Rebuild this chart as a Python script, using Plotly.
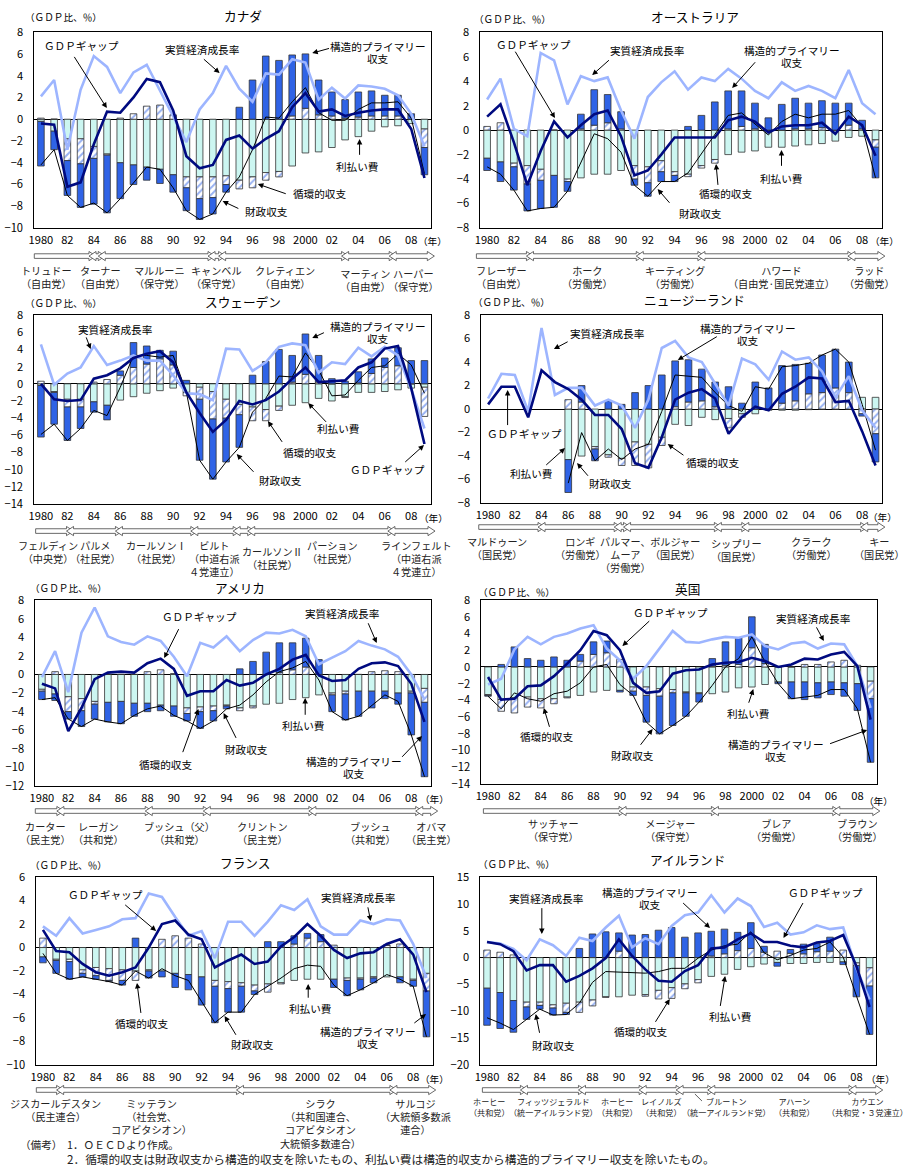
import plotly.graph_objects as go

# The page is photographed as (figure + 8px body margin) scaled by 1174/1190,
# so figure coordinates are derived from target picture coordinates with K.
K = 1190.0 / 1174.0
OFF = 8
W, H = 919, 1182
FONT = "Noto Sans CJK JP"
years = list(range(1980, 2010))
tick_years = list(range(1980, 2009, 2))
tick_text = ["1980", "82", "84", "86", "88", "90", "92", "94", "96", "98", "2000", "02", "04", "06", "08"]

# ---------------- DATA (GDP比、%) ----------------
canada_interest = [-0.2,-1.1,-1.8,-1.8,-2.5,-3.2,-4.0,-4.2,-4.4,-4.6,-5.1,-5.3,-5.3,-5.3,-5.2,-5.6,-5.3,-4.9,-4.8,-4.3,-3.1,-3.0,-2.6,-1.9,-1.6,-1.1,-0.7,-0.6,-0.4,-0.9]
canada_cyclical = [0.1,0.0,-2.0,-2.3,-1.1,-0.1,0.1,0.5,1.2,1.3,0.4,-1.0,-2.0,-1.9,-0.8,-0.8,-1.0,-0.7,-0.5,0.3,1.0,0.4,0.3,0.1,0.2,0.3,0.3,0.3,0.0,-1.7]
canada_structural = [-4.1,-1.7,-3.2,-4.0,-4.2,-5.3,-3.3,-1.8,-1.2,-1.3,-1.6,-2.1,-1.9,-1.5,-0.7,1.1,3.6,5.8,5.4,5.6,5.0,3.2,2.2,1.7,2.3,2.3,1.9,1.9,0.5,-2.5]
canada_fiscal = [-4.2,-2.8,-7.0,-8.1,-7.7,-8.6,-7.3,-5.9,-4.4,-4.6,-6.3,-8.4,-9.2,-8.7,-6.7,-5.3,-2.8,0.2,0.1,1.6,2.9,0.6,-0.1,-0.1,0.9,1.5,1.5,1.6,0.1,-5.0]
canada_gap = [-0.4,-0.5,-6.2,-5.8,-2.3,0.7,0.6,2.0,3.7,3.4,0.8,-3.4,-4.5,-4.2,-1.9,-1.5,-2.7,-1.8,-1.1,1.1,2.4,0.7,0.9,0.3,0.6,0.8,0.9,0.9,-0.9,-5.4]
canada_growth = [2.1,3.6,-2.8,2.7,5.8,4.8,2.4,4.3,5.0,2.6,0.2,-2.1,0.9,2.4,4.9,2.8,1.6,4.2,4.1,5.5,5.2,1.8,2.9,1.9,3.1,3.0,2.8,2.2,0.5,-2.5]

australia_interest = [-2.3,-2.6,-2.7,-2.9,-3.2,-3.7,-4.0,-3.9,-3.6,-3.6,-3.3,-2.9,-3.0,-2.5,-3.4,-3.6,-2.9,-2.4,-2.0,-1.8,-1.7,-1.4,-1.4,-1.3,-1.2,-1.1,-0.9,-0.6,-0.5,-0.8]
australia_cyclical = [0.3,0.6,-0.3,-1.5,-0.9,0.0,-0.2,0.1,0.4,0.6,0.1,-1.1,-1.3,-0.9,-0.3,-0.2,-0.2,-0.3,0.1,0.3,0.1,0.0,0.0,0.1,0.1,0.2,0.0,0.4,0.1,-0.6]
australia_structural = [-1.0,-1.6,-1.9,-2.2,-2.3,-2.6,-0.8,1.2,2.9,2.3,1.4,-0.5,-1.1,-0.8,-0.5,0.3,1.2,2.3,3.1,2.9,2.1,1.0,2.1,2.5,2.1,2.2,2.2,1.8,0.7,-2.5]
australia_fiscal = [-3.0,-3.6,-4.9,-6.6,-6.4,-6.3,-5.0,-2.6,-0.3,-0.7,-1.8,-4.5,-5.4,-4.2,-4.2,-3.5,-1.9,-0.4,1.2,1.4,0.5,-0.4,0.7,1.3,1.0,1.3,1.3,1.6,0.3,-3.9]
australia_gap = [1.1,2.1,-1.0,-4.5,-1.7,0.7,-0.6,0.4,1.3,1.6,-0.5,-3.7,-3.3,-2.0,-0.6,-0.6,-0.6,-0.6,0.8,1.1,0.7,-0.2,0.3,0.4,0.4,0.6,-0.3,1.1,0.4,-2.1]
australia_growth = [2.5,4.2,0.1,-0.5,6.3,5.7,2.1,4.4,4.0,4.3,1.6,-0.7,2.7,3.9,4.8,3.3,4.3,4.0,5.0,4.2,3.2,2.6,3.9,3.2,3.6,3.2,2.6,4.9,2.2,1.3]

sweden_interest = [-0.2,-0.9,-1.8,-1.8,-2.1,-2.5,-1.9,-1.5,-1.1,-0.8,-0.5,-1.0,-0.4,-0.9,-1.8,-2.4,-2.7,-3.0,-2.6,-2.5,-2.2,-1.7,-2.0,-1.5,-1.0,-1.0,-0.9,-0.7,-0.5,-0.4]
sweden_cyclical = [0.3,-0.1,-0.9,-0.9,0.2,0.5,1.0,1.9,2.3,2.9,2.2,-0.4,-1.4,-3.2,-2.2,-1.2,-1.6,-1.3,-0.5,0.2,1.1,0.2,0.0,-0.1,0.1,1.2,1.9,2.1,0.0,-3.4]
sweden_structural = [-6.0,-3.7,-3.9,-2.5,-1.2,-1.7,0.5,2.9,2.1,1.0,1.6,0.4,-7.1,-7.0,-5.1,-3.8,1.0,2.6,4.0,3.1,4.7,3.1,0.6,0.3,1.3,1.7,1.1,2.1,2.7,2.7]
sweden_fiscal = [-5.9,-4.7,-6.6,-5.2,-3.1,-3.7,-0.4,3.3,3.3,3.1,3.3,-1.0,-8.9,-11.1,-9.1,-7.4,-3.3,-1.7,0.9,0.8,3.6,1.6,-1.4,-1.3,0.4,1.9,2.1,3.5,2.2,-1.1]
sweden_gap = [0.0,-1.8,-2.0,-1.9,0.6,1.0,1.8,3.0,3.5,3.8,2.5,-1.0,-3.4,-5.6,-4.2,-2.0,-2.4,-1.9,-0.9,0.6,1.9,0.2,0.3,0.4,1.9,2.5,4.1,4.4,-0.5,-7.0]
sweden_growth = [4.6,-0.1,1.2,1.9,4.4,2.2,2.7,3.3,2.7,2.7,1.0,-1.1,-1.2,-1.9,4.1,4.0,1.5,2.5,4.3,4.7,4.5,1.3,2.5,2.3,4.2,3.2,4.3,3.3,-0.6,-5.2]

nz_interest = [None]*6 + [-4.3,-4.0,-3.2,-3.9,-4.2,-2.8,-3.0,-2.4,-1.3,-1.4,-0.7,-0.9,-0.8,-0.4,-0.4,-0.1,-0.1,-0.1,-0.05,0.0,0.0,0.0,1.0,1.0]
nz_cyclical = [None]*6 + [0.8,0.6,-0.2,-0.2,-0.6,-2.0,-2.0,-0.7,0.2,0.6,0.7,0.2,-0.8,-0.3,0.0,0.0,0.5,0.7,1.3,1.4,1.8,1.4,-0.4,-2.1]
nz_structural = [None]*6 + [-2.8,1.4,-1.0,0.7,0.4,1.4,2.0,2.9,3.9,3.6,2.7,2.1,1.9,0.5,2.3,1.8,3.2,3.1,2.6,3.2,3.3,2.6,-0.2,-2.4]
nz_fiscal = [None]*6 + [-6.3,-2.0,-4.4,-3.4,-4.3,-3.4,-3.0,-0.2,2.9,2.8,2.7,1.4,0.3,-0.2,1.9,1.7,3.6,3.7,3.9,4.6,5.1,4.0,0.4,-3.5]
nz_gap = [0.4,1.9,1.9,-0.7,3.3,2.3,1.7,0.8,-0.5,-0.5,-1.7,-4.6,-5.0,-2.4,0.8,1.4,1.7,0.9,-2.1,-0.7,0.2,-0.1,1.3,1.9,2.7,2.6,0.6,0.7,-1.9,-4.8]
nz_growth = [0.9,3.0,2.9,-0.2,6.9,1.2,1.8,1.8,0.3,0.8,0.3,-1.6,0.8,5.2,5.8,4.4,4.0,2.2,0.3,4.3,3.8,2.5,4.9,4.2,4.4,3.2,1.0,2.8,-0.1,-1.6]

usa_interest = [-1.6,-2.1,-2.4,-2.6,-2.9,-3.0,-2.9,-3.1,-3.1,-3.3,-3.4,-3.6,-3.5,-3.4,-3.3,-3.6,-3.4,-3.2,-3.1,-2.7,-2.5,-2.2,-2.0,-1.8,-1.8,-1.8,-1.8,-2.0,-1.8,-1.5]
usa_cyclical = [-0.2,0.3,-1.6,-1.3,-0.3,0.0,0.0,0.0,0.3,0.5,0.1,-0.6,-0.5,-0.5,-0.1,-0.3,-0.2,0.0,0.2,0.5,0.8,0.0,-0.2,-0.3,0.0,0.3,0.4,0.3,-0.2,-1.5]
usa_structural = [-0.9,-0.7,-0.8,-1.7,-1.6,-2.1,-2.4,-1.4,-0.9,-0.6,-1.1,-0.8,-1.8,-1.1,-0.3,0.6,1.4,2.4,3.2,2.9,3.1,1.6,-1.8,-2.8,-2.7,-1.8,-0.8,-1.2,-4.5,-8.0]
usa_fiscal = [-2.7,-2.5,-4.8,-5.6,-4.8,-5.1,-5.3,-4.4,-3.7,-3.4,-4.4,-5.0,-5.8,-5.0,-3.7,-3.3,-2.2,-0.8,0.3,0.7,1.4,-0.6,-4.0,-4.9,-4.5,-3.3,-2.2,-2.9,-6.5,-11.0]
usa_gap = [-1.0,-1.5,-6.1,-3.6,-0.5,0.2,0.3,0.2,1.2,1.7,0.6,-2.3,-1.8,-1.8,-0.6,-1.2,-0.9,0.0,0.6,1.6,2.1,-0.1,-0.7,-0.6,0.6,1.2,1.3,0.9,-1.0,-5.1]
usa_growth = [-0.3,2.5,-1.9,4.5,7.2,4.1,3.5,3.2,4.1,3.6,1.9,-0.2,3.4,2.9,4.1,2.5,3.7,4.5,4.4,4.8,4.1,1.1,1.8,2.5,3.6,3.1,2.7,1.9,0.0,-2.7]

uk_interest = [-3.3,-3.9,-3.7,-3.6,-3.8,-3.8,-3.6,-3.4,-3.0,-2.8,-2.8,-2.4,-2.4,-2.6,-2.7,-3.0,-3.1,-3.2,-3.0,-2.5,-2.4,-2.1,-1.8,-1.8,-1.8,-1.9,-1.8,-1.9,-2.0,-1.7]
uk_cyclical = [-0.1,-1.4,-1.8,-1.2,-1.1,-0.6,-0.1,0.7,1.5,1.7,0.9,-0.5,-1.0,-0.9,-0.4,-0.1,-0.1,0.1,0.2,0.3,2.3,0.4,0.0,0.0,0.3,0.3,0.6,0.8,0.2,-2.1]
uk_structural = [-0.1,0.3,2.4,1.0,0.8,1.2,0.8,0.8,1.5,1.4,-0.2,-0.5,-3.2,-4.5,-3.9,-2.8,-1.0,0.9,2.8,3.2,3.7,2.3,-0.2,-2.0,-2.1,-1.8,-1.5,-1.6,-3.2,-7.6]
uk_fiscal = [-3.5,-5.0,-3.1,-3.8,-4.1,-3.2,-2.9,-1.9,0.0,0.3,-2.1,-3.4,-6.6,-8.0,-7.0,-5.9,-4.2,-2.2,0.0,1.0,3.6,0.6,-2.0,-3.8,-3.6,-3.4,-2.7,-2.7,-5.0,-11.4]
uk_gap = [-1.2,-3.9,-3.8,-2.3,-2.2,-1.1,0.4,2.0,4.3,3.8,2.0,-1.9,-3.1,-2.9,-0.8,-0.4,-0.3,0.3,0.5,0.6,1.1,0.7,0.0,0.3,1.0,0.9,1.5,1.8,0.1,-6.3]
uk_growth = [-2.1,-1.4,2.1,3.6,2.7,3.6,4.0,4.6,5.0,2.2,0.8,-1.4,0.1,2.2,4.3,3.0,2.9,3.3,3.6,3.5,3.9,2.5,2.1,2.8,3.0,2.2,2.8,2.7,0.1,-4.9]

france_interest = [-0.8,-1.0,-1.0,-1.9,-1.7,-1.8,-1.9,-2.0,-1.9,-2.0,-2.2,-2.3,-2.5,-2.8,-2.9,-3.0,-3.2,-3.1,-3.0,-2.8,-2.7,-2.7,-2.7,-2.6,-2.6,-2.5,-2.5,-2.5,-2.7,-2.2]
france_cyclical = [0.8,-0.1,-0.2,-0.3,-0.7,-1.0,-0.9,-0.8,-0.1,0.7,1.0,0.8,0.3,-0.5,-0.6,-0.3,-0.5,-0.7,-0.1,0.3,0.8,0.5,0.2,-0.2,-0.1,-0.1,0.2,0.3,-0.1,-1.5]
france_structural = [-0.5,-1.1,-1.5,-0.3,-0.3,-0.1,-0.4,0.8,-0.6,-0.5,-1.2,-1.3,-2.4,-3.1,-2.0,-2.2,-0.3,0.5,0.5,0.7,0.4,0.6,-0.7,-1.3,-0.9,-0.4,0.0,-0.5,-0.5,-3.9]
france_fiscal = [-0.5,-2.2,-2.7,-2.5,-2.7,-2.9,-3.2,-2.0,-2.6,-1.8,-2.4,-2.8,-4.6,-6.4,-5.5,-5.5,-4.0,-3.3,-2.6,-1.8,-1.5,-1.6,-3.2,-4.1,-3.6,-3.0,-2.3,-2.7,-3.3,-7.6]
france_gap = [1.5,-0.3,-0.4,-1.4,-2.1,-2.4,-2.1,-1.7,0.0,2.0,2.3,1.1,0.7,-1.7,-1.1,-0.6,-1.4,-1.2,0.1,0.9,2.0,1.0,-0.2,-0.9,-0.5,-0.4,0.3,0.7,-0.6,-3.8]
france_growth = [1.8,1.0,2.5,1.2,1.5,1.8,2.4,2.5,4.6,4.3,2.6,1.0,1.4,-0.9,2.2,2.2,1.0,2.2,3.6,3.2,4.1,1.8,1.1,1.1,2.3,2.0,2.4,2.3,0.3,-2.6]

ireland_interest = [-5.7,-6.5,-8.0,-8.3,-8.3,-8.8,-8.5,-8.3,-7.9,-7.3,-7.3,-7.0,-6.9,-6.1,-5.6,-4.9,-4.1,-3.5,-3.1,-2.2,-1.7,-1.2,-0.9,-1.1,-1.1,-0.9,-0.9,-0.8,-1.0,-1.9]
ireland_cyclical = [1.4,1.0,0.5,-0.9,-0.6,-0.6,-1.7,-1.9,-1.1,-0.1,1.2,0.0,-0.3,-1.6,-2.0,-0.9,-0.6,0.3,0.7,1.3,1.7,1.0,1.2,0.8,0.7,1.1,1.2,1.4,-0.5,-3.4]
ireland_structural = [-6.9,-6.7,-5.9,-2.3,-0.7,-1.3,-0.4,1.7,4.4,4.8,3.4,4.2,4.3,5.1,5.6,3.8,4.6,4.6,4.6,3.4,4.8,1.1,-0.7,0.7,1.8,1.5,2.6,-0.5,-5.8,-9.0]
ireland_fiscal = [-11.2,-12.2,-13.4,-11.5,-9.6,-10.7,-10.6,-8.5,-4.6,-2.6,-2.7,-2.8,-2.9,-2.6,-2.0,-2.0,-0.1,1.4,2.2,2.5,4.8,0.9,-0.4,0.4,1.4,1.7,2.9,0.1,-7.3,-14.3]
ireland_gap = [2.9,2.5,1.2,-2.4,-1.4,-1.4,-4.5,-3.4,-2.0,-0.1,3.4,0.3,-2.2,-4.3,-4.5,-2.5,-1.4,1.7,1.9,3.4,4.5,2.9,2.9,2.2,1.9,2.8,3.1,4.2,-1.6,-9.2]
ireland_growth = [2.9,2.6,1.6,-0.5,3.4,2.3,0.3,3.7,3.1,5.6,7.8,1.9,3.6,2.5,5.9,7.9,8.4,11.6,8.4,11.0,9.6,5.7,6.5,4.3,4.7,6.0,5.3,5.6,-2.0,-7.8]

# leaders (timeline labels)
canada_leaders = ["トリュドー<br>（自由党）", "ターナー<br>（自由党）", "マルルーニ<br>（保守党）", "キャンベル<br>（保守党）", "クレティエン<br>（自由党）", "マーティン<br>（自由党）", "ハーパー<br>（保守党）"]
australia_leaders = ["フレーザー<br>（自由党）", "ホーク<br>（労働党）", "キーティング<br>（労働党）", "ハワード<br>（自由党·国民党連立）", "ラッド<br>（労働党）"]
sweden_leaders = ["フェルディン<br>（中央党）", "パルメ<br>（社民党）", "カールソンⅠ<br>（社民党）", "ビルト<br>（中道右派<br>４党連立）", "カールソンⅡ<br>（社民党）", "パーション<br>（社民党）", "ラインフェルト<br>（中道右派<br>４党連立）"]
nz_leaders = ["マルドゥーン<br>（国民党）", "ロンギ<br>（労働党）", "パルマー、<br>ムーア<br>（労働党）", "ボルジャー<br>（国民党）", "シップリー<br>（国民党）", "クラーク<br>（労働党）", "キー<br>（国民党）"]
usa_leaders = ["カーター<br>（民主党）", "レーガン<br>（共和党）", "ブッシュ（父）<br>（共和党）", "クリントン<br>（民主党）", "ブッシュ<br>（共和党）", "オバマ<br>（民主党）"]
uk_leaders = ["サッチャー<br>（保守党）", "メージャー<br>（保守党）", "ブレア<br>（労働党）", "ブラウン<br>（労働党）"]
france_leaders = ["ジスカールデスタン<br>（民主連合）", "ミッテラン<br>（社会党、<br>コアビタシオン）", "シラク<br>（共和国連合、<br>コアビタシオン<br>大統領多数連合）", "サルコジ<br>（大統領多数派<br>連合）"]
ireland_leaders = ["ホーヒー<br>（共和党）", "フィッツジェラルド<br>（統一アイルランド党）", "ホーヒー<br>（共和党）", "レイノルズ<br>（共和党）", "ブルートン<br>（統一アイルランド党）", "アハーン<br>（共和党）", "カウエン<br>（共和党・３党連立）"]

# term boundaries (years) for the timeline arrows
canada_terms = [1979.5, 1983.9, 1984.6, 1992.9, 1993.7, 2003.0, 2006.6, 2009.75]
australia_terms = [1979.2, 1983.2, 1991.4, 1996.0, 2007.2, 2009.7]
sweden_terms = [1979.6, 1982.2, 1985.9, 1991.6, 1994.8, 1995.9, 2006.5, 2009.8]
nz_terms = [1979.3, 1984.0, 1989.7, 1990.4, 1997.2, 1999.25, 2008.15, 2009.7]
usa_terms = [1979.5, 1981.4, 1988.1, 1992.5, 2000.5, 2008.6, 2010.0]
uk_terms = [1979.65, 1990.2, 1997.2, 2006.4, 2009.7]
france_terms = [1979.5, 1981.3, 1994.9, 2006.5, 2009.7]
ireland_terms = [1979.65, 1982.8, 1987.2, 1991.8, 1994.6, 1997.0, 2007.7, 2010.0]

# ---------------- STYLE ----------------
BLUE = "#2F63E6"
CYAN = "#CCF6F1"
NAVY = "#000A80"
LIGHT = "#9DB5FF"
EDGE = "#333333"


def X(px):
    return (px * K - OFF) / W


def Y(py):
    return 1 - (py * K - OFF) / H


def fs(s):
    return round(s * K, 2)


panels = [
    dict(title="カナダ", box=(36, 31, 430, 227), yr=(-10, 8), dt=2, tpos=(243, 14), upos=(65, 16), nen=(431, 240),
         d=(canada_interest, canada_cyclical, canada_structural, canada_fiscal, canada_gap, canada_growth),
         labels=[("ＧＤＰギャップ", 83, 44), ("実質経済成長率", 203, 48), ("構造的プライマリー", 377, 45), ("収支", 377, 57),
                 ("利払い費", 357, 165), ("循環的収支", 320, 192), ("財政収支", 267, 210)],
         arrows=[((75, 55), (108, 107)), ((203, 57), (220, 72)), ((330, 47), (312, 52)), ((359, 155), (359, 138)),
                 ((287, 193), (258, 183)), ((240, 208), (223, 200))],
         terms=canada_terms, tly=255, leaders=canada_leaders,
         lpos=[(48, 260), (102, 260), (160, 260), (217, 260), (285, 260), (365, 263), (413, 263)], lfs=10),
    dict(title="オーストラリア", box=(479, 31, 878, 227), yr=(-8, 8), dt=2, tpos=(692, 15), upos=(511, 18), nen=(880, 240),
         d=(australia_interest, australia_cyclical, australia_structural, australia_fiscal, australia_gap, australia_growth),
         labels=[("ＧＤＰギャップ", 532, 43), ("実質経済成長率", 645, 49), ("構造的プライマリー", 788, 49), ("収支", 788, 61),
                 ("利払い費", 778, 177), ("循環的収支", 723, 192), ("財政収支", 698, 212)],
         arrows=[((513, 50), (553, 117)), ((608, 58), (590, 74)), ((753, 60), (729, 87)), ((778, 166), (778, 149)),
                 ((715, 185), (713, 163)), ((668, 203), (655, 188))],
         terms=australia_terms, tly=255, leaders=australia_leaders,
         lpos=[(500, 260), (585, 260), (672, 260), (778, 260), (865, 260)], lfs=10),
    dict(title="スウェーデン", box=(36, 314, 430, 503), yr=(-14, 8), dt=2, tpos=(243, 300), upos=(65, 302), nen=(432, 517),
         d=(sweden_interest, sweden_cyclical, sweden_structural, sweden_fiscal, sweden_gap, sweden_growth),
         labels=[("実質経済成長率", 117, 328), ("構造的プライマリー", 377, 325), ("収支", 377, 337), ("利払い費", 338, 427),
                 ("循環的収支", 310, 451), ("財政収支", 280, 479), ("ＧＤＰギャップ", 387, 468)],
         arrows=[((87, 335), (92, 348)), ((325, 331), (312, 337)), ((327, 422), (308, 402)), ((283, 442), (268, 420)),
                 ((255, 472), (237, 453)), ((403, 462), (423, 444))],
         terms=sweden_terms, tly=530, leaders=sweden_leaders,
         lpos=[(50, 535), (97, 535), (157, 535), (215, 535), (273, 541), (332, 535), (416, 535)], lfs=10),
    dict(title="ニュージーランド", box=(480, 314, 878, 502), yr=(-8, 8), dt=2, tpos=(692, 298), upos=(510, 301), nen=(878, 516),
         d=(nz_interest, nz_cyclical, nz_structural, nz_fiscal, nz_gap, nz_growth),
         labels=[("実質経済成長率", 605, 332), ("構造的プライマリー", 745, 327), ("収支", 745, 339), ("ＧＤＰギャップ", 523, 432),
                 ("利払い費", 530, 472), ("財政収支", 608, 482), ("循環的収支", 710, 461)],
         arrows=[((567, 340), (552, 348)), ((715, 335), (675, 359)), ((506, 425), (506, 389)), ((543, 465), (563, 447)),
                 ((587, 476), (575, 462)), ((682, 455), (665, 443))],
         terms=nz_terms, tly=526, leaders=nz_leaders,
         lpos=[(495, 531), (578, 531), (623, 531), (673, 531), (733, 533), (808, 531), (875, 531)], lfs=10),
    dict(title="アメリカ", box=(37, 599, 430, 785), yr=(-12, 8), dt=2, tpos=(240, 586), upos=(70, 587), nen=(433, 798),
         d=(usa_interest, usa_cyclical, usa_structural, usa_fiscal, usa_gap, usa_growth),
         labels=[("ＧＤＰギャップ", 200, 615), ("実質経済成長率", 342, 612), ("利払い費", 303, 724), ("財政収支", 247, 748),
                 ("循環的収支", 167, 763), ("構造的プライマリー", 353, 760), ("収支", 353, 772)],
         arrows=[((180, 627), (165, 657)), ((367, 621), (376, 642)), ((305, 715), (305, 697)), ((237, 738), (224, 712)),
                 ((183, 752), (199, 708)), ((400, 757), (421, 735))],
         terms=usa_terms, tly=810, leaders=usa_leaders,
         lpos=[(47, 816), (100, 816), (180, 816), (263, 816), (370, 816), (430, 816)], lfs=10),
    dict(title="英国", box=(480, 599, 873, 783), yr=(-14, 8), dt=2, tpos=(685, 587), upos=(515, 591), nen=(874, 800),
         d=(uk_interest, uk_cyclical, uk_structural, uk_fiscal, uk_gap, uk_growth),
         labels=[("ＧＤＰギャップ", 668, 611), ("実質経済成長率", 810, 617), ("利払い費", 745, 712), ("循環的収支", 545, 735),
                 ("財政収支", 630, 754), ("構造的プライマリー", 773, 743), ("収支", 773, 755)],
         arrows=[((648, 619), (620, 645)), ((812, 625), (820, 640)), ((745, 703), (750, 688)), ((548, 727), (542, 707)),
                 ((637, 745), (650, 728)), ((825, 743), (863, 729))],
         terms=uk_terms, tly=810, leaders=uk_leaders,
         lpos=[(552, 813), (668, 813), (773, 813), (853, 813)], lfs=10),
    dict(title="フランス", box=(38, 876, 432, 1064), yr=(-10, 6), dt=2, tpos=(245, 861), upos=(70, 864), nen=(433, 1078),
         d=(france_interest, france_cyclical, france_structural, france_fiscal, france_gap, france_growth),
         labels=[("ＧＤＰギャップ", 107, 893), ("実質経済成長率", 358, 896), ("循環的収支", 143, 1022), ("利払い費", 310, 1007),
                 ("財政収支", 253, 1043), ("構造的プライマリー", 367, 1030), ("収支", 367, 1042)],
         arrows=[((125, 903), (157, 930)), ((367, 905), (370, 920)), ((142, 1013), (138, 982)), ((308, 998), (308, 983)),
                 ((237, 1035), (225, 1015)), ((412, 1023), (425, 1013))],
         terms=france_terms, tly=1089, leaders=france_leaders,
         lpos=[(57, 1093), (152, 1093), (320, 1093), (415, 1093)], lfs=10),
    dict(title="アイルランド", box=(479, 876, 872, 1064), yr=(-20, 15), dt=5, tpos=(685, 858), upos=(515, 863), nen=(876, 1078),
         d=(ireland_interest, ireland_cyclical, ireland_structural, ireland_fiscal, ireland_gap, ireland_growth),
         labels=[("実質経済成長率", 545, 897), ("構造的プライマリー", 647, 891), ("収支", 647, 903), ("ＧＤＰギャップ", 822, 891),
                 ("利払い費", 727, 1015), ("循環的収支", 638, 1030), ("財政収支", 552, 1044)],
         arrows=[((540, 906), (540, 933)), ((679, 901), (707, 927)), ((800, 901), (780, 937)), ((717, 1006), (722, 975)),
                 ((652, 1022), (667, 998)), ((538, 1033), (534, 1013))],
         terms=ireland_terms, tly=1089, leaders=ireland_leaders,
         lpos=[(488, 1093), (552, 1093), (615, 1093), (658, 1093), (723, 1093), (790, 1093), (863, 1093)], lfs=8),
]

fig = go.Figure()
annotations = []
shapes = []
layout_axes = {}


def text_ann(txt, px, py, size, color="black", xanchor="center", yanchor="middle", align="center"):
    return dict(text=txt, x=X(px), y=Y(py), xref="paper", yref="paper", showarrow=False,
                xanchor=xanchor, yanchor=yanchor, align=align,
                font=dict(size=fs(size), family=FONT, color=color))


for i, p in enumerate(panels):
    n = "" if i == 0 else str(i + 1)
    xa, ya = "x" + n, "y" + n
    interest, cyclical, structural, fiscal, gap, growth = p["d"]
    l, t, r, b = p["box"]

    fig.add_trace(go.Bar(x=years, y=interest, xaxis=xa, yaxis=ya, marker=dict(color=CYAN, line=dict(color=EDGE, width=0.8))))
    fig.add_trace(go.Bar(x=years, y=cyclical, xaxis=xa, yaxis=ya,
                         marker=dict(color="white", line=dict(color=EDGE, width=0.8),
                                     pattern=dict(shape="/", fgcolor=BLUE, bgcolor="white", size=5, solidity=0.4))))
    fig.add_trace(go.Bar(x=years, y=structural, xaxis=xa, yaxis=ya, marker=dict(color=BLUE, line=dict(color=EDGE, width=0.8))))
    fig.add_trace(go.Scatter(x=years, y=fiscal, xaxis=xa, yaxis=ya, mode="lines", line=dict(color="black", width=1)))
    fig.add_trace(go.Scatter(x=years, y=growth, xaxis=xa, yaxis=ya, mode="lines", line=dict(color=LIGHT, width=2.6)))
    fig.add_trace(go.Scatter(x=years, y=gap, xaxis=xa, yaxis=ya, mode="lines", line=dict(color=NAVY, width=2.6)))

    ymin, ymax = p["yr"]
    layout_axes["xaxis" + n] = dict(domain=[X(l), X(r)], range=[1979.5, 2009.5], anchor=ya,
                                   tickvals=tick_years, ticktext=tick_text, ticks="", showgrid=False, zeroline=False,
                                   showline=True, mirror=True, linecolor="black", linewidth=1,
                                   tickfont=dict(size=fs(11), color="black", family=FONT), ticklabelstandoff=2, fixedrange=True)
    layout_axes["yaxis" + n] = dict(domain=[Y(b), Y(t)], range=[ymin, ymax], anchor=xa,
                                   tickvals=list(range(ymin, ymax + 1, p["dt"])), ticks="", showgrid=False,
                                   zeroline=True, zerolinecolor="black", zerolinewidth=1,
                                   showline=True, mirror=True, linecolor="black", linewidth=1,
                                   tickfont=dict(size=fs(11), color="black", family=FONT), ticklabelstandoff=8, fixedrange=True)

    annotations.append(text_ann(p["title"], p["tpos"][0], p["tpos"][1], 12.5))
    annotations.append(text_ann("（ＧＤＰ比、％）", p["upos"][0], p["upos"][1], 9.5))
    annotations.append(text_ann("（年）", p["nen"][0], p["nen"][1], 9.5))
    for txt, tx, ty in p["labels"]:
        annotations.append(text_ann(txt, tx, ty, 10.5))
    for (tx, ty), (hx, hy) in p["arrows"]:
        annotations.append(dict(text="", x=X(hx), y=Y(hy), xref="paper", yref="paper", showarrow=True,
                                ax=(tx - hx) * K, ay=(ty - hy) * K, axref="pixel", ayref="pixel",
                                arrowhead=2, arrowsize=1.1, arrowwidth=1, arrowcolor="black", standoff=0))

    def px_of(yr):
        return l + (yr - 1979.5) / 30.0 * (r - l)
    yc = p["tly"]
    terms = p["terms"]
    hl, bh, hh = 7.0, 2.3, 4.6
    nseg = len(terms) - 1
    for k in range(nseg):
        x0 = px_of(terms[k]) - (0 if k == 0 else 3.5)
        x1 = px_of(terms[k + 1]) + (3.5 if k < nseg - 1 else 0)
        pts = []
        if k == 0:
            pts += [(x0, yc - bh)]
        else:
            pts += [(x0, yc), (x0 + hl, yc - hh), (x0 + hl, yc - bh)]
        pts += [(x1 - hl, yc - bh), (x1 - hl, yc - hh), (x1, yc), (x1 - hl, yc + hh), (x1 - hl, yc + bh)]
        if k == 0:
            pts += [(x0, yc + bh)]
        else:
            pts += [(x0 + hl, yc + bh), (x0 + hl, yc + hh)]
        path = "M " + " L ".join(f"{X(a):.5f},{Y(c):.5f}" for a, c in pts) + " Z"
        shapes.append(dict(type="path", path=path, xref="paper", yref="paper",
                           line=dict(color="#444444", width=0.8), fillcolor="white"))
    for txt, (lx, ly) in zip(p["leaders"], p["lpos"]):
        annotations.append(text_ann(txt, lx, ly, p["lfs"], color="#222222", yanchor="top"))

shapes.append(dict(type="line", x0=X(692), y0=Y(1093), x1=X(699), y1=Y(1100), xref="paper", yref="paper",
                   line=dict(color="#333333", width=0.8)))

annotations.append(text_ann("（備考）", 20, 1143, 10.5, color="#222222", xanchor="left"))
annotations.append(text_ann("1．ＯＥＣＤより作成。", 66, 1143, 10.5, color="#222222", xanchor="left"))
annotations.append(text_ann("2．循環的収支は財政収支から構造的収支を除いたもの、利払い費は構造的収支から構造的プライマリー収支を除いたもの。",
                            66, 1157, 11.5, color="#222222", xanchor="left"))

fig.update_layout(width=W, height=H, margin=dict(l=0, r=0, t=0, b=0), paper_bgcolor="white", plot_bgcolor="white",
                  showlegend=False, barmode="relative", bargap=0.5, font=dict(family=FONT),
                  annotations=annotations, shapes=shapes, **layout_axes)

fig.write_html("out.html")
